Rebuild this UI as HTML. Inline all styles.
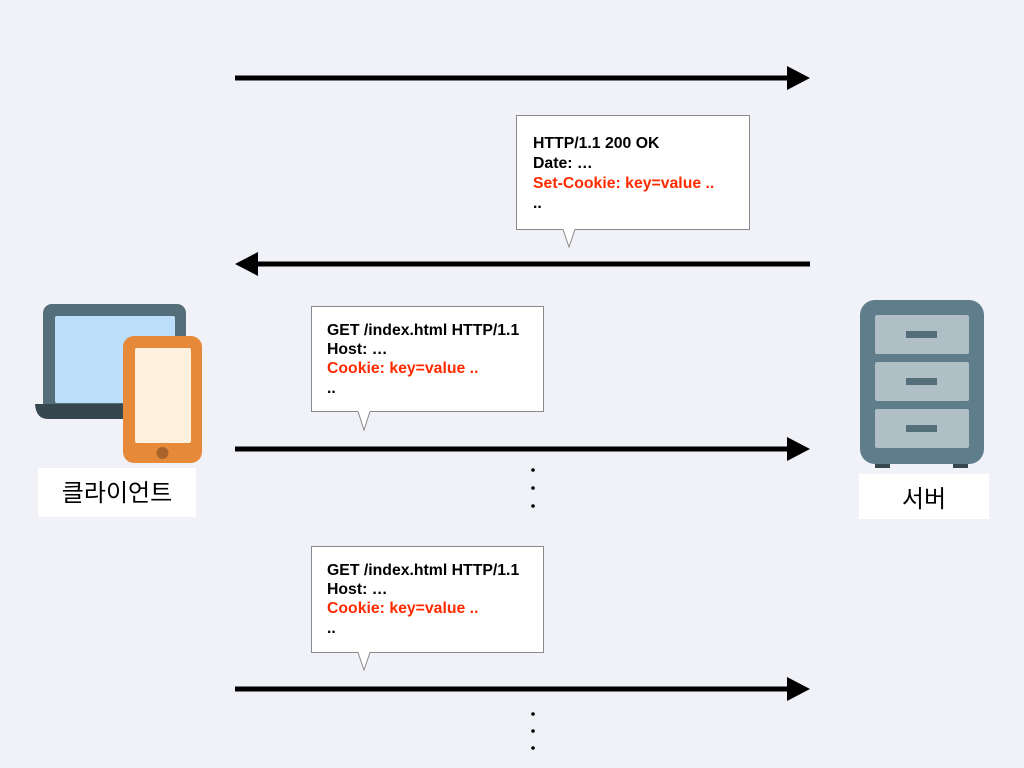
<!DOCTYPE html>
<html><head><meta charset="utf-8"><style>
body{margin:0;background:#f1f2f7;width:1024px;height:768px;overflow:hidden;font-family:"Liberation Sans","Noto Sans CJK KR",sans-serif}
</style></head><body>
<svg width="1024" height="768" xmlns="http://www.w3.org/2000/svg" style="position:absolute;left:0;top:0">
<rect width="1024" height="768" fill="#f1f2f7"/>
<g fill="#000">
<rect x="235" y="75.5" width="560" height="5"/><polygon points="787,66 810,78 787,90"/>
<rect x="250" y="261.5" width="560" height="5"/><polygon points="258,252 235,264 258,276"/>
<rect x="235" y="446.5" width="560" height="5"/><polygon points="787,437 810,449 787,461"/>
<rect x="235" y="686.5" width="560" height="5"/><polygon points="787,677 810,689 787,701"/>
<circle cx="533" cy="470" r="1.8"/><circle cx="533" cy="488" r="1.8"/><circle cx="533" cy="506" r="1.8"/>
<circle cx="533" cy="714" r="1.8"/><circle cx="533" cy="731" r="1.8"/><circle cx="533" cy="748" r="1.8"/>
</g>
<g fill="#fff" stroke="#8a8a8a" stroke-width="1">
<path d="M516.5,115.5 H749.5 V229.5 H575 L569,247 L563,229.5 H516.5 Z"/>
<path d="M311.5,306.5 H543.5 V411.5 H370 L364,430 L358,411.5 H311.5 Z"/>
<path d="M311.5,546.5 H543.5 V652.5 H370 L364,670 L358,652.5 H311.5 Z"/>
</g>
<g font-family="Liberation Sans, sans-serif" font-weight="bold" font-size="15.8">
<text x="533" y="148">HTTP/1.1 200 OK</text>
<text x="533" y="168">Date: …</text>
<text x="533" y="188" fill="#ff2a00">Set-Cookie: key=value ..</text>
<text x="533" y="208">..</text>
<text x="327" y="335">GET /index.html HTTP/1.1</text>
<text x="327" y="354">Host: …</text>
<text x="327" y="373" fill="#ff2a00">Cookie: key=value ..</text>
<text x="327" y="393">..</text>
<text x="327" y="575">GET /index.html HTTP/1.1</text>
<text x="327" y="594">Host: …</text>
<text x="327" y="613" fill="#ff2a00">Cookie: key=value ..</text>
<text x="327" y="633">..</text>
</g>
<rect x="43" y="304" width="143" height="108" rx="9" fill="#546e7a"/>
<rect x="55" y="316" width="120" height="87" rx="2" fill="#bbdefb"/>
<path d="M35,404 H190 V419 H48 Q36,419 35,404 Z" fill="#37474f"/>
<rect x="123" y="336" width="79" height="127" rx="11" fill="#e68a3a"/>
<rect x="135" y="348" width="56" height="95" rx="2" fill="#fff1dd"/>
<circle cx="162.5" cy="453" r="6" fill="#a8642b"/>
<rect x="38" y="468" width="158" height="49" fill="#fff"/>
<text x="117" y="501" text-anchor="middle" font-size="24" font-family="Liberation Sans, Noto Sans CJK KR, sans-serif">클라이언트</text>
<rect x="875" y="460" width="15" height="8" fill="#37474f"/>
<rect x="953" y="460" width="15" height="8" fill="#37474f"/>
<rect x="860" y="300" width="124" height="164" rx="15" fill="#607d8b"/>
<rect x="875" y="315" width="94" height="39" rx="2" fill="#b0bec5"/>
<rect x="875" y="362" width="94" height="39" rx="2" fill="#b0bec5"/>
<rect x="875" y="409" width="94" height="39" rx="2" fill="#b0bec5"/>
<rect x="906" y="331" width="31" height="7" fill="#546e7a"/>
<rect x="906" y="378" width="31" height="7" fill="#546e7a"/>
<rect x="906" y="425" width="31" height="7" fill="#546e7a"/>
<rect x="859" y="474" width="130" height="45" fill="#fff"/>
<text x="924" y="507" text-anchor="middle" font-size="24" font-family="Liberation Sans, Noto Sans CJK KR, sans-serif">서버</text>
</svg>
</body></html>
